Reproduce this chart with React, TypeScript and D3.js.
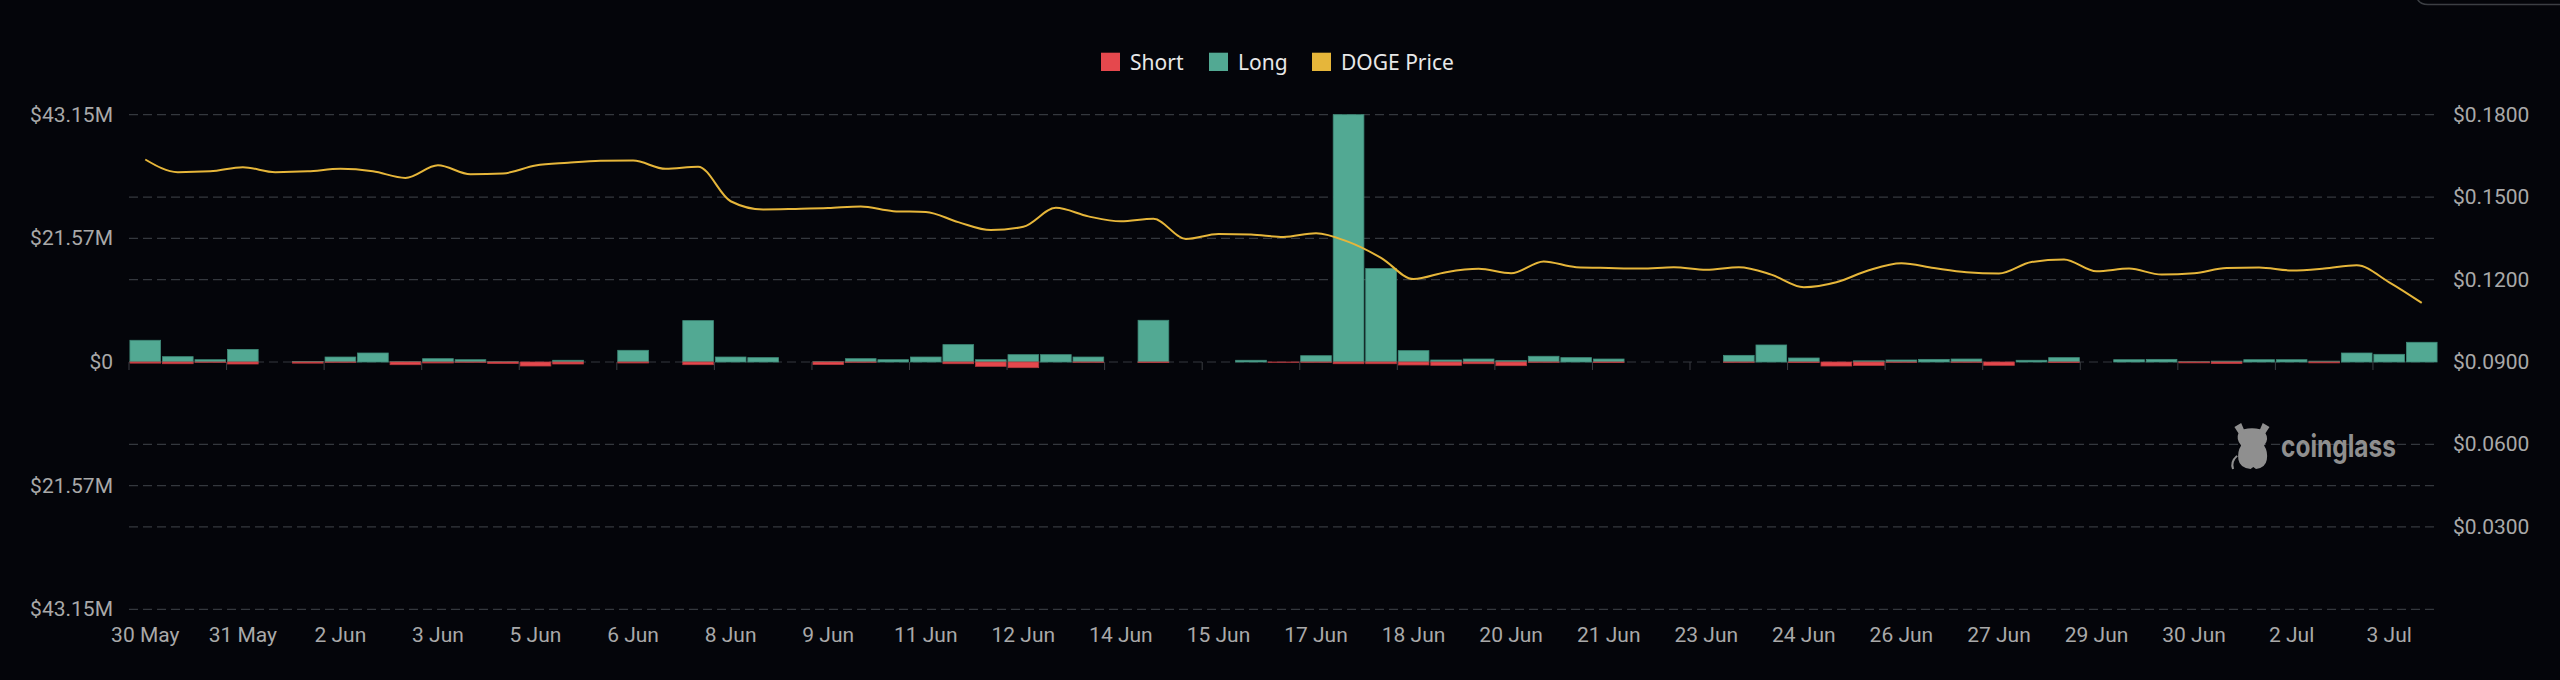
import React from "react";
import * as d3 from "d3";

// ---------- DATA ----------
const categories: string[] = [
  "30 May 00:00", "30 May 12:00", "31 May 00:00", "31 May 12:00",
  "1 Jun 00:00", "1 Jun 12:00", "2 Jun 00:00", "2 Jun 12:00",
  "3 Jun 00:00", "3 Jun 12:00", "4 Jun 00:00", "4 Jun 12:00",
  "5 Jun 00:00", "5 Jun 12:00", "6 Jun 00:00", "6 Jun 12:00",
  "7 Jun 00:00", "7 Jun 12:00", "8 Jun 00:00", "8 Jun 12:00",
  "9 Jun 00:00", "9 Jun 12:00", "10 Jun 00:00", "10 Jun 12:00",
  "11 Jun 00:00", "11 Jun 12:00", "12 Jun 00:00", "12 Jun 12:00",
  "13 Jun 00:00", "13 Jun 12:00", "14 Jun 00:00", "14 Jun 12:00",
  "15 Jun 00:00", "15 Jun 12:00", "16 Jun 00:00", "16 Jun 12:00",
  "17 Jun 00:00", "17 Jun 12:00", "18 Jun 00:00", "18 Jun 12:00",
  "19 Jun 00:00", "19 Jun 12:00", "20 Jun 00:00", "20 Jun 12:00",
  "21 Jun 00:00", "21 Jun 12:00", "22 Jun 00:00", "22 Jun 12:00",
  "23 Jun 00:00", "23 Jun 12:00", "24 Jun 00:00", "24 Jun 12:00",
  "25 Jun 00:00", "25 Jun 12:00", "26 Jun 00:00", "26 Jun 12:00",
  "27 Jun 00:00", "27 Jun 12:00", "28 Jun 00:00", "28 Jun 12:00",
  "29 Jun 00:00", "29 Jun 12:00", "30 Jun 00:00", "30 Jun 12:00",
  "1 Jul 00:00", "1 Jul 12:00", "2 Jul 00:00", "2 Jul 12:00",
  "3 Jul 00:00", "3 Jul 12:00", "4 Jul 00:00",
];

// Long liquidations ($M)
const longValues: number[] = [
  3.79, 0.93, 0.4, 2.2, 0, 0.1, 0.87, 1.57, 0.05, 0.58,
  0.4, 0.05, 0, 0.3, 0, 2.04, 0, 7.22, 0.87, 0.76,
  0, 0.05, 0.58, 0.4, 0.87, 3.03, 0.4, 1.28, 1.28, 0.87,
  0, 7.28, 0, 0, 0.3, 0, 1.1, 43.15, 16.3, 1.98,
  0.35, 0.52, 0.23, 1.0, 0.76, 0.52, 0, 0, 0, 1.16,
  2.97, 0.7, 0, 0.2, 0.35, 0.46, 0.52, 0, 0.3, 0.76,
  0, 0.4, 0.46, 0.05, 0.15, 0.4, 0.4, 0.15, 1.57, 1.34,
  3.44,
];

// Short liquidations ($M)
const shortValues: number[] = [
  0.2, 0.3, 0.05, 0.35, 0, 0.2, 0.05, 0, 0.47, 0.17,
  0.05, 0.25, 0.7, 0.35, 0, 0.17, 0, 0.47, 0, 0,
  0, 0.45, 0.05, 0, 0, 0.3, 0.76, 0.99, 0, 0.05,
  0, 0.1, 0, 0, 0, 0.05, 0.05, 0.3, 0.3, 0.52,
  0.58, 0.3, 0.64, 0.05, 0, 0.1, 0, 0, 0, 0.05,
  0, 0.1, 0.7, 0.6, 0.05, 0, 0.05, 0.58, 0, 0.1,
  0, 0, 0, 0.15, 0.25, 0, 0, 0.15, 0, 0,
  0,
];

// DOGE price ($)
const priceValues: number[] = [
  0.1637, 0.1591, 0.1594, 0.1609, 0.1591, 0.1594, 0.1603, 0.1594, 0.157, 0.1616,
  0.1583, 0.1586, 0.1615, 0.1625, 0.1632, 0.1633, 0.1603, 0.1611, 0.1485, 0.1455,
  0.1457, 0.146, 0.1466, 0.1449, 0.1446, 0.1409, 0.138, 0.1392, 0.1461, 0.143,
  0.1412, 0.1421, 0.1348, 0.1366, 0.1364, 0.1355, 0.1369, 0.1337, 0.1279, 0.1202,
  0.1227, 0.1239, 0.1223, 0.1266, 0.1245, 0.1242, 0.124, 0.1245, 0.1236, 0.1245,
  0.1218, 0.1172, 0.119, 0.1234, 0.1259, 0.1242, 0.1227, 0.1222, 0.1264, 0.1273,
  0.123, 0.124, 0.1218, 0.1223, 0.1242, 0.1244, 0.1233, 0.124, 0.1252, 0.119,
  0.1115,
];

const leftTicks: number[] = [43.15, 21.57, 0, -21.57, -43.15];
const leftTickLabels: string[] = ["$43.15M", "$21.57M", "$0", "$21.57M", "$43.15M"];
const rightTicks: number[] = [0.18, 0.15, 0.12, 0.09, 0.06, 0.03];
const rightTickLabels: string[] = ["$0.1800", "$0.1500", "$0.1200", "$0.0900", "$0.0600", "$0.0300"];
const legendLabels: string[] = ["Short", "Long", "DOGE Price"];
const LABEL_EVERY = 3;

// ---------- STYLE ----------
const W = 2560;
const H = 680;
const BG = "#04050a";
const LONG = "#52a993";
const SHORT = "#e5484d";
const PRICE = "#e6b63a";
const GRID = "#34383e";
const AXIS_TEXT = "#a9a9a9";
const AXIS_FONT = "Roboto, 'DejaVu Sans', sans-serif";

export default function App() {
  const plotL = 129;
  const plotR = 2438;
  const plotT = 114.7;
  const plotB = 609.3;

  const x = d3
    .scaleBand<number>()
    .domain(d3.range(categories.length))
    .range([plotL, plotR])
    .paddingInner(0.056)
    .paddingOuter(0.028);
  const step = x.step();
  const bw = x.bandwidth();

  const yL = d3.scaleLinear().domain([-43.15, 43.15]).range([plotB, plotT]);
  const yR = d3.scaleLinear().domain([0, 0.18]).range([plotB, plotT]);

  const gridYs = Array.from(
    new Set([...leftTicks.map((v) => yL(v)), ...rightTicks.map((v) => yR(v)), yR(0)].map((v) => Math.round(v * 10) / 10))
  );

  const line = d3
    .line<number>()
    .x((_, i) => (x(i) as number) + bw / 2)
    .y((d) => yR(d))
    .curve(d3.curveMonotoneX);

  const zeroY = yL(0);

  const legendX = [1101, 1209, 1312];
  const legendColors = [SHORT, LONG, PRICE];

  return (
    <svg
      width={W}
      height={H}
      style={{ position: "absolute", left: 0, top: 0, display: "block" }}
      xmlns="http://www.w3.org/2000/svg"
    >
      <rect x={0} y={0} width={W} height={H} fill={BG} />

      {/* top-right panel edge */}
      <path d={`M ${W} 4.5 L 2428 4.5 Q 2416 4.5 2416 -8`} fill="none" stroke="#3c3f44" strokeWidth={1.5} />

      {/* grid */}
      {gridYs.map((gy, i) => (
        <line
          key={`g${i}`}
          x1={plotL}
          x2={plotR}
          y1={gy}
          y2={gy}
          stroke={GRID}
          strokeWidth={1.2}
          strokeDasharray="9 5"
        />
      ))}

      {/* watermark */}
      <g fill="#8f8f8f">
        <g transform="translate(2229,421) scale(1.35,1.02)">
          <path d="M4 6 L9 2 L11 8 Q17 6 23 8 L25 2 L30 6 L27 12 Q30 18 26 24 Q29 30 28 38 Q27 46 20 47 L18 45 L16 47 Q8 46 7 38 Q6 30 9 24 Q5 18 7 12 Z" />
          <path d="M6 34 Q1 40 3 47" fill="none" stroke="#8f8f8f" strokeWidth={1.5} />
        </g>
        <text x={2281} y={457} fontFamily="Inter, 'Noto Sans', sans-serif" fontWeight={700} fontSize={31} textLength={115} lengthAdjust="spacingAndGlyphs">
          coinglass
        </text>
      </g>

      {/* bars */}
      {longValues.map((v, i) => (
        <rect
          key={`l${i}`}
          x={x(i)}
          y={yL(v)}
          width={bw}
          height={Math.max(0, zeroY - yL(v))}
          fill={LONG}
          stroke="#3e8a78"
          strokeWidth={0.8}
          opacity={v > 0 ? 1 : 0}
        />
      ))}
      {shortValues.map((v, i) => (
        <rect
          key={`s${i}`}
          x={x(i)}
          y={zeroY}
          width={bw}
          height={Math.max(0, yL(-v) - zeroY)}
          fill={SHORT}
          stroke="#b73a3f"
          strokeWidth={0.8}
          opacity={v > 0 ? 1 : 0}
        />
      ))}

      {/* x ticks */}
      {categories.map((c, i) =>
        i % LABEL_EVERY === 0 ? (
          <line
            key={`t${i}`}
            x1={(x(i) as number) - (step - bw) / 2}
            x2={(x(i) as number) - (step - bw) / 2}
            y1={zeroY}
            y2={zeroY + 8}
            stroke="#3a3d42"
            strokeWidth={1}
          />
        ) : null
      )}

      {/* price line */}
      <path d={line(priceValues) || ""} fill="none" stroke={PRICE} strokeWidth={2} />

      {/* left axis labels */}
      {leftTicks.map((v, i) => (
        <text
          key={`ly${i}`}
          x={113}
          y={yL(v)}
          textAnchor="end"
          dominantBaseline="central"
          fill={AXIS_TEXT}
          fontFamily={AXIS_FONT}
          fontSize={21}
        >
          {leftTickLabels[i]}
        </text>
      ))}

      {/* right axis labels */}
      {rightTicks.map((v, i) => (
        <text
          key={`ry${i}`}
          x={2453}
          y={yR(v)}
          textAnchor="start"
          dominantBaseline="central"
          fill={AXIS_TEXT}
          fontFamily={AXIS_FONT}
          fontSize={21}
        >
          {rightTickLabels[i]}
        </text>
      ))}

      {/* x labels */}
      {categories.map((c, i) =>
        i % LABEL_EVERY === 0 ? (
          <text
            key={`xl${i}`}
            x={(x(i) as number) + bw / 2}
            y={642}
            textAnchor="middle"
            fill={AXIS_TEXT}
            fontFamily={AXIS_FONT}
            fontSize={21}
          >
            {c.split(" ").slice(0, 2).join(" ")}
          </text>
        ) : null
      )}

      {/* legend */}
      {legendLabels.map((lab, i) => (
        <g key={`lg${i}`}>
          <rect x={legendX[i]} y={52.7} width={19} height={18.3} fill={legendColors[i]} />
          <text
            x={legendX[i] + 29}
            y={62}
            dominantBaseline="central"
            fill="#e8e8e8"
            fontFamily="'Noto Sans', 'Open Sans', sans-serif"
            fontSize={21}
          >
            {lab}
          </text>
        </g>
      ))}
    </svg>
  );
}
